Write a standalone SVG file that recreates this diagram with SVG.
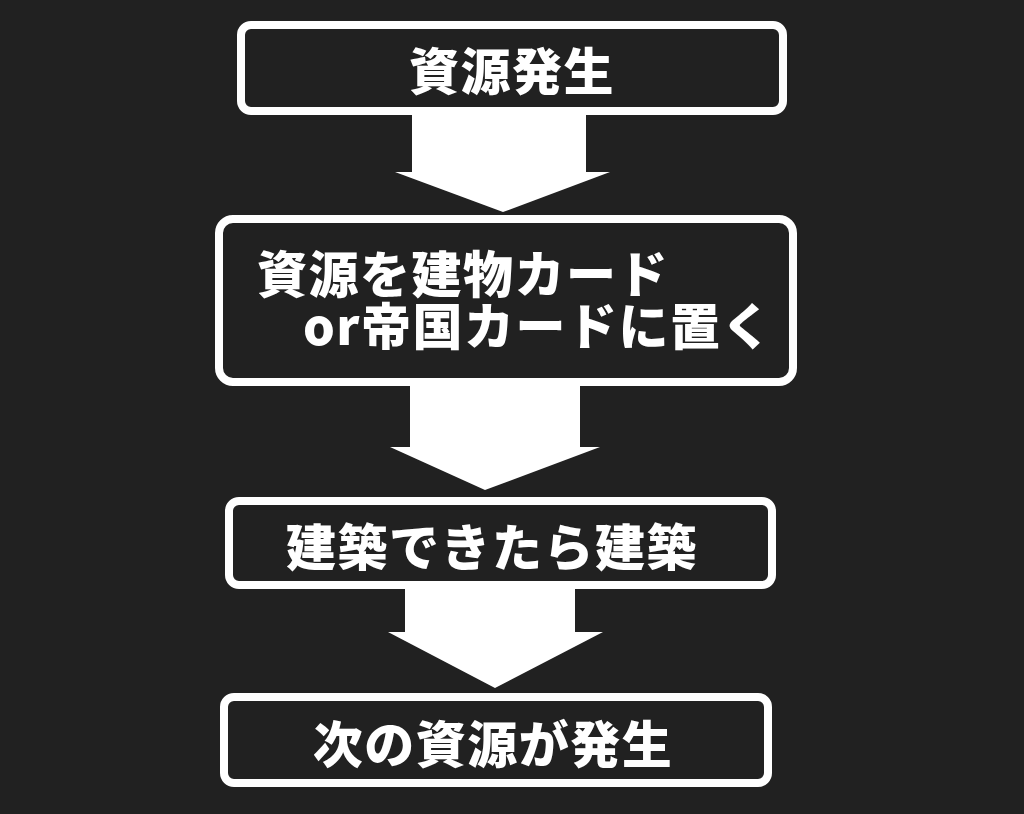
<svg xmlns="http://www.w3.org/2000/svg" width="1024" height="814" viewBox="0 0 1024 814">
<style>
.box{fill:#212121;stroke:#ffffff;stroke-width:8}
.arr{fill:#ffffff}
.t{fill:#ffffff;font-family:"Noto Sans CJK JP","Noto Sans CJK SC",sans-serif;font-weight:900;font-size:50px;letter-spacing:1.5px}
</style>
<rect width="1024" height="814" fill="#212121"/>
<g id="connectors">
<polygon class="arr" points="412,114 586,114 586,172 610,172 503,212 395,172 412,172"/>
<polygon class="arr" points="410,385 580,385 580,447 600,447 485,490 390,447 410,447"/>
<polygon class="arr" points="405,588 575,588 575,632 603,632 495,688 388,632 405,632"/>
</g>
<g id="n1">
<rect class="box" x="241" y="25" width="542" height="86" rx="10"/>
<text class="t" x="512" y="90" text-anchor="middle">資源発生</text>
</g>
<g id="n2">
<rect class="box" x="219" y="219" width="574" height="163" rx="14"/>
<text class="t"><tspan x="257" y="293">資源を建物カード</tspan><tspan x="303" y="345">or帝国カードに置く</tspan></text>
</g>
<g id="n3">
<rect class="box" x="229" y="501" width="543" height="84" rx="10"/>
<text class="t" x="492" y="566" text-anchor="middle">建築できたら建築</text>
</g>
<g id="n4">
<rect class="box" x="224" y="697" width="544" height="86" rx="10"/>
<text class="t" x="493" y="763" text-anchor="middle">次の資源が発生</text>
</g>
</svg>
